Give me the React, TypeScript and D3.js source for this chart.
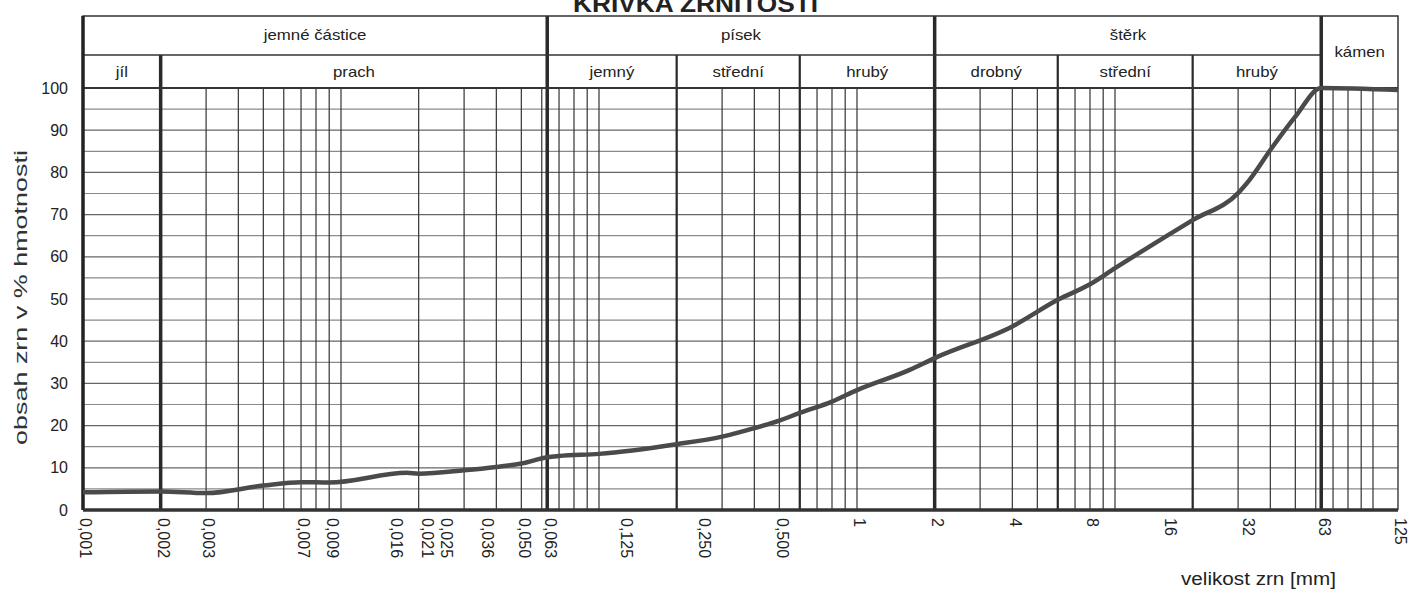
import React, { useRef, useEffect } from "react";
import * as d3 from "d3";

// grain size curve
const grainSizes = [0.001, 0.002, 0.003, 0.005, 0.007, 0.009, 0.018, 0.02, 0.03, 0.04, 0.05, 0.063, 0.07, 0.1, 0.2, 0.3, 0.4, 0.5, 0.6, 0.8, 1, 1.6, 2, 4, 6, 8, 10, 20, 30, 33, 40, 50, 63, 125];
const passingPct = [4.2, 4.4, 4.0, 5.8, 6.6, 6.5, 8.8, 8.6, 9.4, 10.2, 11.0, 12.5, 12.8, 13.3, 15.6, 17.4, 19.4, 21.2, 23.0, 25.7, 28.4, 33.2, 36.0, 43.5, 49.8, 53.5, 57.3, 68.7, 75.1, 78.0, 85.3, 93.2, 100, 99.5];

const xTickValues = [0.001, 0.002, 0.003, 0.007, 0.009, 0.016, 0.021, 0.025, 0.036, 0.05, 0.063, 0.125, 0.25, 0.5, 1, 2, 4, 8, 16, 32, 63, 125];
const xTickLabels = ["0,001", "0,002", "0,003", "0,007", "0,009", "0,016", "0,021", "0,025", "0,036", "0,050", "0,063", "0,125", "0,250", "0,500", "1", "2", "4", "8", "16", "32", "63", "125"];
const yTickValues = [0, 10, 20, 30, 40, 50, 60, 70, 80, 90, 100];

const mainFractions = ["jemné částice", "písek", "štěrk"];
const mainBounds = [[0.001, 0.063], [0.063, 2], [2, 63]];
const subFractions = ["jíl", "prach", "jemný", "střední", "hrubý", "drobný", "střední", "hrubý"];
const subBounds = [[0.001, 0.002], [0.002, 0.063], [0.063, 0.2], [0.2, 0.6], [0.6, 2], [2, 6], [6, 20], [20, 63]];
const stoneLabel = "kámen";
const stoneBounds = [63, 125];

const majorLimits = [0.002, 0.063, 2, 63];
const minorLimits = [0.2, 0.6, 6, 20];

const W = 1414;
const H = 591;
const FONT = "'Liberation Sans', Arial, sans-serif";

const App = () => {
  const ref = useRef<SVGSVGElement>(null);

  useEffect(() => {
    const svg = d3.select(ref.current);
    svg.selectAll("*").remove();

    const left = 83, right = 1398, top = 88, bottom = 510;
    const headTop = 16, headMid = 55;

    const x = d3.scaleLog().domain([0.001, 125]).range([left, right]);
    const y = d3.scaleLinear().domain([0, 100]).range([bottom, top]);

    // title, mostly cut off by the top edge
    svg.append("text")
      .attr("x", 573).attr("y", 12)
      .attr("textLength", 245).attr("lengthAdjust", "spacingAndGlyphs")
      .style("font-family", FONT).style("font-weight", "bold").style("font-size", "24px")
      .style("fill", "#222")
      .text("KŘIVKA ZRNITOSTI");

    const grid = svg.append("g");

    // horizontal grid every 5 %
    grid.selectAll("line.h")
      .data(d3.range(5, 100, 5))
      .join("line")
      .attr("x1", left).attr("x2", right)
      .attr("y1", d => y(d)).attr("y2", d => y(d))
      .attr("stroke", d => (d % 10 === 0 ? "#666" : "#8a8a8a"))
      .attr("stroke-width", 1.2);

    // log grid lines
    grid.selectAll("line.v")
      .data(x.ticks().filter(d => d > 0.001 && d < 125))
      .join("line")
      .attr("x1", d => x(d)).attr("x2", d => x(d))
      .attr("y1", top).attr("y2", bottom)
      .attr("stroke", "#333")
      .attr("stroke-width", 1.2);

    grid.selectAll("line.minor")
      .data(minorLimits)
      .join("line")
      .attr("x1", d => x(d)).attr("x2", d => x(d))
      .attr("y1", headMid).attr("y2", bottom)
      .attr("stroke", "#2a2a2a")
      .attr("stroke-width", 2.2);

    grid.selectAll("line.major")
      .data(majorLimits)
      .join("line")
      .attr("x1", d => x(d)).attr("x2", d => x(d))
      .attr("y1", d => (d === 0.002 ? headMid : headTop)).attr("y2", bottom)
      .attr("stroke", "#2a2a2a")
      .attr("stroke-width", 3.5);

    // frame
    svg.append("rect")
      .attr("x", left).attr("y", headTop)
      .attr("width", right - left).attr("height", top - headTop)
      .attr("fill", "none").attr("stroke", "#333").attr("stroke-width", 1.5);
    svg.append("line")
      .attr("x1", left).attr("x2", x(stoneBounds[0]))
      .attr("y1", headMid).attr("y2", headMid)
      .attr("stroke", "#333").attr("stroke-width", 1.5);
    svg.append("line")
      .attr("x1", left).attr("x2", right)
      .attr("y1", top).attr("y2", top)
      .attr("stroke", "#333").attr("stroke-width", 2);
    svg.append("line")
      .attr("x1", right).attr("x2", right)
      .attr("y1", top).attr("y2", bottom)
      .attr("stroke", "#444").attr("stroke-width", 1.5);
    svg.append("line")
      .attr("x1", left).attr("x2", left)
      .attr("y1", headTop).attr("y2", bottom)
      .attr("stroke", "#222").attr("stroke-width", 3.5);
    svg.append("line")
      .attr("x1", left).attr("x2", right)
      .attr("y1", bottom).attr("y2", bottom)
      .attr("stroke", "#333").attr("stroke-width", 3.5);

    // header labels (the scan's font is wide, so stretch it a little)
    const headText = (cx: number, cy: number, t: string) => {
      svg.append("text")
        .attr("transform", `translate(${cx},${cy}) scale(1.2,1)`)
        .attr("text-anchor", "middle")
        .attr("dy", "0.35em")
        .style("font-family", FONT).style("font-size", "14px").style("fill", "#222")
        .text(t);
    };
    mainFractions.forEach((t, i) => {
      const [a, b] = mainBounds[i];
      headText((x(a) + x(b)) / 2, (headTop + headMid) / 2, t);
    });
    subFractions.forEach((t, i) => {
      const [a, b] = subBounds[i];
      headText((x(a) + x(b)) / 2, (headMid + top) / 2 + 1, t);
    });
    headText((x(stoneBounds[0]) + x(stoneBounds[1])) / 2, (headTop + top) / 2, stoneLabel);

    // y axis
    svg.append("g")
      .selectAll("text")
      .data(yTickValues)
      .join("text")
      .attr("x", 68).attr("y", d => y(d))
      .attr("dy", "0.35em")
      .attr("text-anchor", "end")
      .style("font-family", FONT).style("font-size", "16px").style("fill", "#222")
      .text(d => d);

    svg.append("text")
      .attr("transform", "translate(27,445) rotate(-90)")
      .attr("textLength", 295).attr("lengthAdjust", "spacingAndGlyphs")
      .style("font-family", FONT).style("font-size", "18px").style("fill", "#333")
      .text("obsah zrn v % hmotnosti");

    // x axis labels, rotated to read downwards
    svg.append("g")
      .selectAll("text")
      .data(xTickValues)
      .join("text")
      .attr("transform", d => `translate(${x(d) + 3},518) rotate(90)`)
      .attr("dy", "0.35em")
      .style("font-family", FONT).style("font-size", "16px").style("fill", "#222")
      .text((d, i) => xTickLabels[i]);

    svg.append("text")
      .attr("x", 1181).attr("y", 585)
      .attr("textLength", 155).attr("lengthAdjust", "spacingAndGlyphs")
      .style("font-family", FONT).style("font-size", "18px").style("fill", "#222")
      .text("velikost zrn [mm]");

    // the curve
    const line = d3.line<number>()
      .x((d, i) => x(grainSizes[i]))
      .y(d => y(d))
      .curve(d3.curveMonotoneX);

    svg.append("path")
      .datum(passingPct)
      .attr("d", line)
      .attr("fill", "none")
      .attr("stroke", "#4a4a4a")
      .attr("stroke-width", 4.5)
      .attr("stroke-linejoin", "round");
  }, []);

  return (
    <svg
      ref={ref}
      width={W}
      height={H}
      style={{ position: "absolute", left: 0, top: 0, background: "#fff" }}
    />
  );
};

export default App;
